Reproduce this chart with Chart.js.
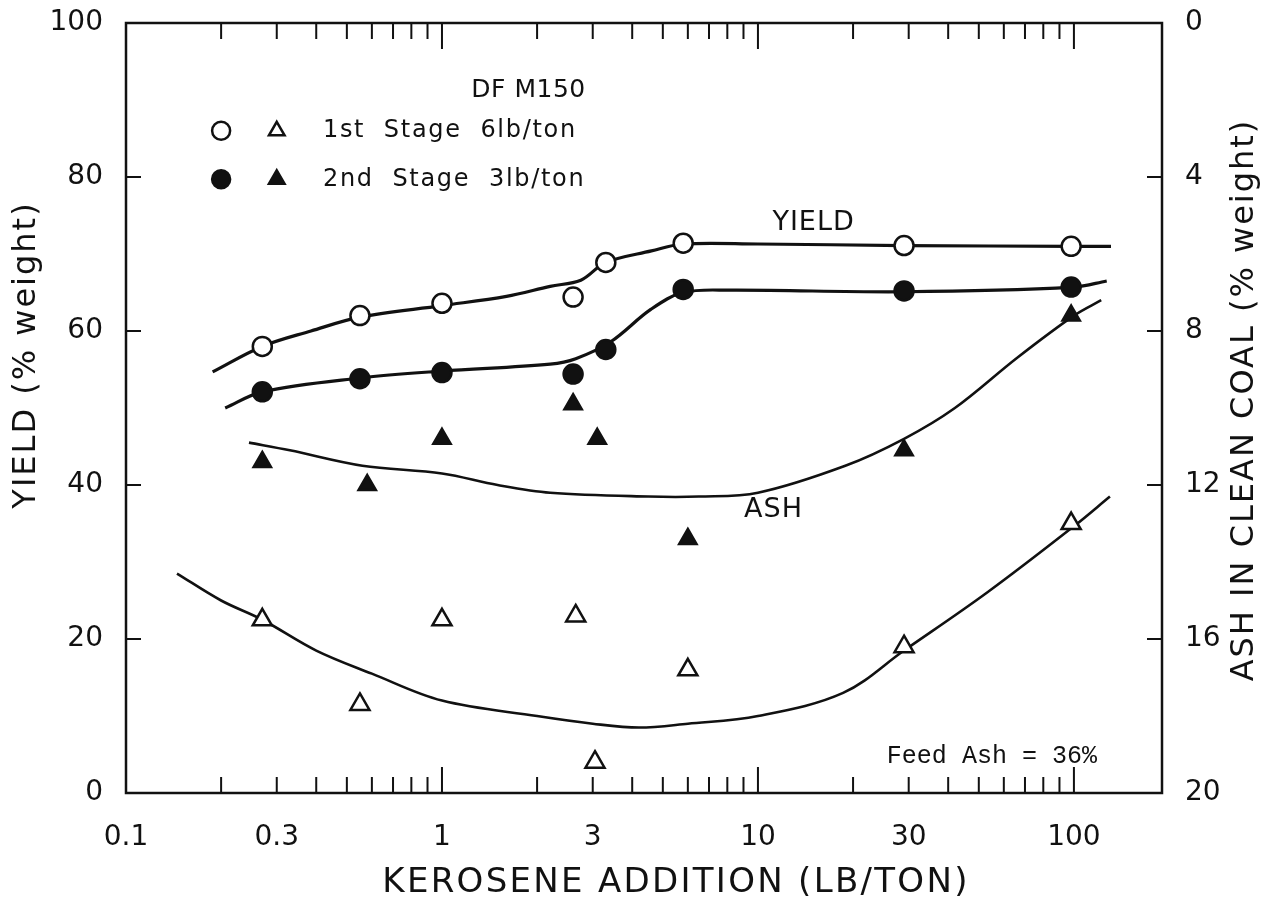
<!DOCTYPE html>
<html>
<head>
<meta charset="utf-8">
<title>Kerosene addition - yield and ash</title>
<script src="https://cdn.jsdelivr.net/npm/chart.js@4.4.1/dist/chart.umd.min.js"></script>
<style>
  html, body { margin: 0; padding: 0; background: #fff; }
  canvas { display: block; }
</style>
</head>
<body>
<canvas id="chart" width="1270" height="900"></canvas>
<script>
// kerosene addition (lb/ton) for each set of measured points
const keroseneCircles = [0.27, 0.55, 1.0, 2.6, 3.3, 5.8, 29, 98];
const keroseneOpenTri = [0.27, 0.55, 1.0, 2.65, 3.05, 6.0, 29, 98];
const keroseneFilledTri = [0.27, 0.58, 1.0, 2.6, 3.1, 6.0, 29, 98];

// yield (% weight), left axis
const yield1st = [58.0, 62.0, 63.6, 64.4, 68.9, 71.4, 71.1, 71.0];
const yield2nd = [52.1, 53.8, 54.6, 54.4, 57.6, 65.4, 65.2, 65.7];
// ash in clean coal (% weight), right axis
const ash1st = [15.5, 17.7, 15.5, 15.4, 19.2, 16.8, 16.2, 13.0];
const ash2nd = [11.4, 12.0, 10.8, 9.9, 10.8, 13.4, 11.1, 7.6];

// hand drawn curves
const yield1CurveX = [0.188, 0.27, 0.385, 0.55, 1.0, 1.6, 2.2, 2.75, 3.3, 4.6, 5.8, 10, 29, 100, 131];
const yield1CurveY = [54.7, 58.0, 60.0, 61.8, 63.3, 64.5, 65.8, 66.6, 68.9, 70.4, 71.3, 71.3, 71.1, 71.0, 71.0];
const yield2CurveX = [0.206, 0.27, 0.55, 1.0, 2.2, 2.65, 3.42, 4.58, 5.8, 8.2, 29, 100, 127];
const yield2CurveY = [50.0, 52.1, 53.9, 54.8, 55.7, 56.4, 58.6, 62.8, 65.0, 65.3, 65.1, 65.7, 66.5];
const ash1CurveX = [0.145, 0.2, 0.27, 0.4, 0.6, 1, 2, 3, 4.2, 6, 10, 18.6, 29, 53, 99, 130];
const ash1CurveY = [14.3, 15.0, 15.5, 16.3, 16.9, 17.6, 18.0, 18.2, 18.3, 18.2, 18.0, 17.4, 16.3, 14.8, 13.1, 12.3];
const ash2CurveX = [0.245, 0.33, 0.56, 1.0, 1.5, 2.2, 4.5, 6.5, 10, 18.9, 29, 42, 66, 100, 122];
const ash2CurveY = [10.9, 11.1, 11.5, 11.7, 12.0, 12.2, 12.3, 12.3, 12.2, 11.5, 10.8, 10.0, 8.7, 7.6, 7.2];

// axes
const xTickValues = [0.1, 0.2, 0.3, 0.4, 0.5, 0.6, 0.7, 0.8, 0.9, 1, 2, 3, 4, 5, 6, 7, 8, 9, 10,
  20, 30, 40, 50, 60, 70, 80, 90, 100];
const xLabelled = [0.1, 0.3, 1, 3, 10, 30, 100];
const xMajor = [1, 10, 100];
const yieldTicks = [0, 20, 40, 60, 80, 100];
const ashTicks = [0, 4, 8, 12, 16, 20];

const INK = '#111';
const FONT = '"DejaVu Sans", sans-serif';

const pts = (xs, ys) => xs.map((x, i) => ({ x: x, y: ys[i] }));

function curve(label, xs, ys, axis, width) {
  return {
    label: label,
    data: pts(xs, ys),
    yAxisID: axis,
    showLine: true,
    borderColor: INK,
    borderWidth: width,
    pointRadius: 0,
    tension: 0.35,
    order: 2
  };
}

function marks(label, xs, ys, axis, style, radius, fill) {
  return {
    label: label,
    data: pts(xs, ys),
    yAxisID: axis,
    showLine: false,
    pointStyle: style,
    pointRadius: radius,
    pointBackgroundColor: fill,
    pointBorderColor: INK,
    pointBorderWidth: 2.5,
    order: 1
  };
}

function text(ctx, s, x, y, font, align, spacing, rot) {
  ctx.save();
  ctx.translate(x, y);
  if (rot) ctx.rotate(rot);
  ctx.font = font;
  ctx.fillStyle = INK;
  ctx.textAlign = align;
  ctx.textBaseline = 'middle';
  ctx.letterSpacing = spacing + 'px';
  ctx.fillText(s, 0, 0);
  ctx.restore();
}

// y axes: fixed width, and no extra room above/below the plot box
function fitY(width) {
  return s => {
    s.width = width;
    s.paddingTop = 8;
    s.paddingBottom = 8;
  };
}

const paperFrame = {
  id: 'paperFrame',
  beforeDatasetsDraw(chart) {
    const { ctx, chartArea: a, scales } = chart;
    ctx.save();
    ctx.strokeStyle = INK;
    ctx.lineWidth = 2.5;
    ctx.strokeRect(a.left, a.top, a.right - a.left, a.bottom - a.top);
    ctx.lineWidth = 2;
    ctx.beginPath();
    xTickValues.slice(1).forEach(v => {
      const px = scales.x.getPixelForValue(v);
      const len = xMajor.includes(v) ? 26 : 16;
      ctx.moveTo(px, a.bottom); ctx.lineTo(px, a.bottom - len);
      ctx.moveTo(px, a.top); ctx.lineTo(px, a.top + len);
    });
    yieldTicks.slice(1, -1).forEach(v => {
      const py = scales.y.getPixelForValue(v);
      ctx.moveTo(a.left, py); ctx.lineTo(a.left + 15, py);
    });
    ashTicks.slice(1, -1).forEach(v => {
      const py = scales.y2.getPixelForValue(v);
      ctx.moveTo(a.right, py); ctx.lineTo(a.right - 15, py);
    });
    ctx.stroke();
    ctx.restore();
  },
  afterDraw(chart) {
    const { ctx, chartArea: a, scales } = chart;
    const X = v => scales.x.getPixelForValue(v);
    const Y = v => scales.y.getPixelForValue(v);

    // axis titles
    text(ctx, 'KEROSENE ADDITION (LB/TON)', (a.left + a.right) / 2 + 32, 883, '34px ' + FONT, 'center', 2.3, 0);
    text(ctx, 'YIELD (% weight)', 27, 355, '32px ' + FONT, 'center', 2, -Math.PI / 2);
    text(ctx, 'ASH IN CLEAN COAL (% weight)', 1245, 400, '32px ' + FONT, 'center', 2, -Math.PI / 2);

    // curve labels
    text(ctx, 'YIELD', X(15), Y(74), '27px ' + FONT, 'center', 1, 0);
    text(ctx, 'ASH', X(11.2), Y(36.7), '27px ' + FONT, 'center', 1, 0);

    // legend block
    text(ctx, 'DF M150', X(2.85), Y(91.2), '25px ' + FONT, 'right', 0.5, 0);
    const rows = [
      { y: 86.0, fill: '#fff', label: '1st  Stage  6lb/ton' },
      { y: 79.7, fill: INK, label: '2nd  Stage  3lb/ton' }
    ];
    rows.forEach(r => {
      ctx.save();
      ctx.fillStyle = r.fill;
      ctx.strokeStyle = INK;
      ctx.lineWidth = 2.5;
      Chart.helpers.drawPoint(ctx, { pointStyle: 'circle', radius: 9, borderWidth: 2.5, rotation: 0 }, X(0.2), Y(r.y));
      Chart.helpers.drawPoint(ctx, { pointStyle: 'triangle', radius: 9, borderWidth: 2.5, rotation: 0 }, X(0.3), Y(r.y));
      ctx.restore();
      text(ctx, r.label, X(0.42), Y(r.y), '24px ' + FONT, 'left', 1.7, 0);
    });

    text(ctx, 'Feed Ash = 36%', X(55), Y(4.8), '25px "Liberation Mono", monospace', 'center', 0, 0);
  }
};

new Chart(document.getElementById('chart'), {
  type: 'scatter',
  data: {
    datasets: [
      marks('1st Stage yield', keroseneCircles, yield1st, 'y', 'circle', 9.5, '#fff'),
      marks('2nd Stage yield', keroseneCircles, yield2nd, 'y', 'circle', 9.5, INK),
      marks('1st Stage ash', keroseneOpenTri, ash1st, 'y2', 'triangle', 11, '#fff'),
      marks('2nd Stage ash', keroseneFilledTri, ash2nd, 'y2', 'triangle', 10, INK),
      curve('yield 1st curve', yield1CurveX, yield1CurveY, 'y', 3.2),
      curve('yield 2nd curve', yield2CurveX, yield2CurveY, 'y', 3.2),
      curve('ash 1st curve', ash1CurveX, ash1CurveY, 'y2', 2.6),
      curve('ash 2nd curve', ash2CurveX, ash2CurveY, 'y2', 2.6)
    ]
  },
  options: {
    responsive: false,
    animation: false,
    events: [],
    layout: { padding: { top: 23, left: 0, right: 0, bottom: 0 } },
    plugins: {
      legend: { display: false },
      tooltip: { enabled: false }
    },
    scales: {
      x: {
        type: 'logarithmic',
        min: 0.1,
        max: 190,
        grid: { display: false },
        border: { display: false },
        afterBuildTicks: s => { s.ticks = xTickValues.map(v => ({ value: v })); },
        afterFit: s => { s.height = 107; },
        ticks: {
          autoSkip: false,
          maxRotation: 0,
          minRotation: 0,
          padding: 20,
          color: INK,
          font: { family: FONT, size: 28 },
          callback: v => xLabelled.includes(v) ? String(v) : ''
        }
      },
      y: {
        position: 'left',
        min: 0,
        max: 100,
        grid: { display: false },
        border: { display: false },
        afterBuildTicks: s => { s.ticks = yieldTicks.map(v => ({ value: v })); },
        afterFit: fitY(126),
        ticks: {
          padding: 15,
          color: INK,
          font: { family: FONT, size: 28 }
        }
      },
      y2: {
        position: 'right',
        min: 0,
        max: 20,
        reverse: true,
        grid: { display: false },
        border: { display: false },
        afterBuildTicks: s => { s.ticks = ashTicks.map(v => ({ value: v })); },
        afterFit: fitY(108),
        ticks: {
          padding: 15,
          color: INK,
          font: { family: FONT, size: 28 }
        }
      }
    }
  },
  plugins: [paperFrame]
});
</script>
</body>
</html>
